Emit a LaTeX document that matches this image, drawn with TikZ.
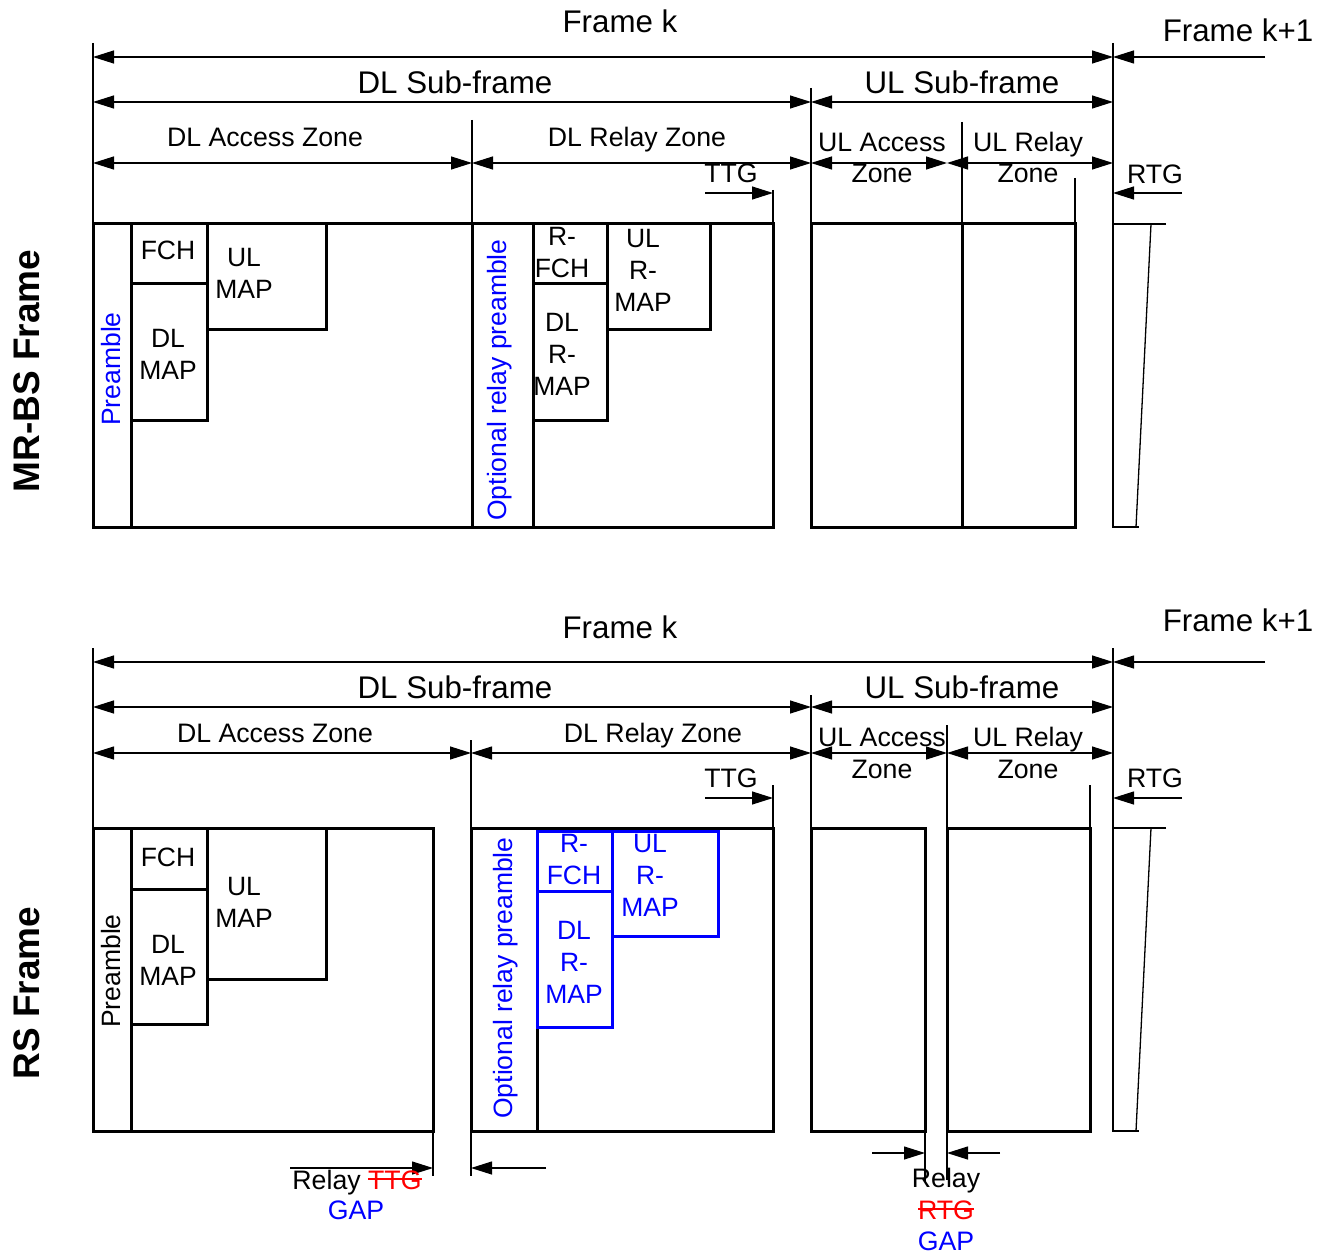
\documentclass[tikz,border=0pt]{standalone}
\usepackage{fontspec}
\setmainfont{Liberation Sans}
\usetikzlibrary{arrows.meta}
\definecolor{myblue}{RGB}{0,0,255}
\definecolor{myred}{RGB}{255,0,0}
\newcommand\mystrike[1]{\leavevmode\setbox0\hbox{#1}\rlap{\rule[0.34em]{\wd0}{1.5pt}}\box0}
\begin{document}
\begin{tikzpicture}[x=1pt,y=-1pt,
  >={Triangle[length=21pt,width=13pt]},
  dimln/.style={line width=1.2pt,<->},
  onearr/.style={line width=1.2pt,->},
  vln/.style={line width=1.3pt},
  bx/.style={draw,line width=3pt},
  bbx/.style={draw=myblue,line width=3pt},
  thinbx/.style={line width=1.3pt},
  lblbig/.style={font=\fontsize{31.3}{36}\selectfont,inner sep=0pt,anchor=base},
  lblsm/.style={font=\fontsize{26.7}{32}\selectfont,inner sep=0pt,anchor=base},
  boxtxt/.style={font=\fontsize{26.5}{32}\selectfont,inner sep=0pt,align=center},
  rottxt/.style={font=\fontsize{26.5}{32}\selectfont,inner sep=0pt,rotate=90},
  sidelbl/.style={font=\fontsize{37}{40}\selectfont\bfseries,inner sep=0pt,rotate=90},
]
\useasboundingbox (0,0) rectangle (1322,1257);

%================ TOP: MR-BS frame =================
\node[sidelbl] (mrbs) at (27,371) {MR-BS Frame};
% vertical guide lines
\draw[vln] (93,43) -- (93,224);
\draw[vln] (1113,43) -- (1113,224);
\draw[vln] (811,88) -- (811,224);
\draw[vln] (472,120) -- (472,224);
\draw[vln] (962,122) -- (962,224);
\draw[vln] (1075,178) -- (1075,224);
\draw[vln] (773,190) -- (773,224);
% dimension arrows
\draw[dimln] (93,57) -- (1113,57);
\draw[onearr] (1265,57) -- (1113,57);
\draw[dimln] (93,102) -- (811,102);
\draw[dimln] (811,102) -- (1113,102);
\draw[dimln] (93,163) -- (472,163);
\draw[dimln] (472,163) -- (811,163);
\draw[dimln] (811,163) -- (947,163);
\draw[dimln] (947,163) -- (1113,163);
\draw[onearr] (705,193) -- (773,193);
\draw[onearr] (1182,193) -- (1113,193);
% labels
\node[lblbig] (tfk) at (620,33) {Frame k};
\node[lblbig] (tfk1) at (1238,42) {Frame k+1};
\node[lblbig] (tdls) at (455,94) {DL Sub-frame};
\node[lblbig] (tuls) at (962,94) {UL Sub-frame};
\node[lblsm] (tdla) at (265,146.5) {DL Access Zone};
\node[lblsm] (tdlr) at (637,146.5) {DL Relay Zone};
\node[lblsm] (tula) at (882,152) {UL Access};
\node[lblsm] (tulaz) at (882,183) {Zone};
\node[lblsm] (tulr) at (1028,152) {UL Relay};
\node[lblsm] (tulrz) at (1028,183) {Zone};
\node[lblsm] (tttg) at (731,183) {TTG};
\node[lblsm] (trtg) at (1155,184) {RTG};
% boxes
\draw[bx] (93,224) rectangle (773,527);
\draw[bx] (93,224) rectangle (131,527);
\draw[bx] (131,224) rectangle (207,284);
\draw[bx] (131,284) rectangle (207,420);
\draw[bx] (207,224) rectangle (326,329);
\draw[bx] (472,224) rectangle (533,527);
\draw[bx] (533,224) rectangle (607,284);
\draw[bx] (533,284) rectangle (607,420);
\draw[bx] (607,224) rectangle (710,329);
\draw[bx] (811,224) rectangle (962,527);
\draw[bx] (962,224) rectangle (1075,527);
\draw[thinbx] (1166,224) -- (1113,224) -- (1113,527) -- (1139,527);
\draw[thinbx] (1151,224) -- (1136,527);
% box texts
\node[rottxt,text=myblue] (tpre) at (111,369) {Preamble};
\node[rottxt,text=myblue] (torp) at (500,380) {Optional relay preamble};
\node[boxtxt] (tfch) at (168,250) {FCH};
\node[boxtxt] (tdlmap) at (168,354) {DL\\MAP};
\node[boxtxt] (tulmap) at (244,273) {UL\\MAP};
\node[boxtxt] (trfch) at (562,253) {R-\\FCH};
\node[boxtxt] (tdlrmap) at (562,354) {DL\\R-\\MAP};
\node[boxtxt] (tulrmap) at (643,270) {UL\\R-\\MAP};

%================ BOTTOM: RS frame =================
\node[sidelbl] (rs) at (27,993) {RS Frame};
\draw[vln] (93,648) -- (93,828);
\draw[vln] (1113,648) -- (1113,828);
\draw[vln] (811,695) -- (811,828);
\draw[vln] (471,740) -- (471,828);
\draw[vln] (947,725) -- (947,1180);
\draw[vln] (1090,785) -- (1090,828);
\draw[vln] (773,785) -- (773,828);
\draw[vln] (433,1131) -- (433,1176);
\draw[vln] (471,1131) -- (471,1176);
\draw[vln] (925,1131) -- (925,1182);
% arrows
\draw[dimln] (93,662) -- (1113,662);
\draw[onearr] (1265,662) -- (1113,662);
\draw[dimln] (93,707) -- (811,707);
\draw[dimln] (811,707) -- (1113,707);
\draw[dimln] (93,753) -- (471,753);
\draw[dimln] (471,753) -- (811,753);
\draw[dimln] (811,753) -- (947,753);
\draw[dimln] (947,753) -- (1113,753);
\draw[onearr] (705,798) -- (773,798);
\draw[onearr] (1182,798) -- (1113,798);
\draw[onearr] (290,1168) -- (433,1168);
\draw[onearr] (546,1168) -- (471,1168);
\draw[onearr] (872,1153) -- (925,1153);
\draw[onearr] (1000,1153) -- (947,1153);
% labels
\node[lblbig] (bfk) at (620,638) {Frame k};
\node[lblbig] (bfk1) at (1238,631) {Frame k+1};
\node[lblbig] (bdls) at (455,698) {DL Sub-frame};
\node[lblbig] (buls) at (962,698) {UL Sub-frame};
\node[lblsm] (bdla) at (275,742) {DL Access Zone};
\node[lblsm] (bdlr) at (653,742) {DL Relay Zone};
\node[lblsm] (bula) at (882,746) {UL Access};
\node[lblsm] (bulaz) at (882,778) {Zone};
\node[lblsm] (bulr) at (1028,746) {UL Relay};
\node[lblsm] (bulrz) at (1028,778) {Zone};
\node[lblsm] (bttg) at (731,787) {TTG};
\node[lblsm] (brtg) at (1155,787) {RTG};
% boxes
\draw[bx] (93,828) rectangle (433,1131);
\draw[bx] (93,828) rectangle (131,1131);
\draw[bx] (131,828) rectangle (207,889);
\draw[bx] (131,889) rectangle (207,1024);
\draw[bx] (207,828) rectangle (326,979);
\draw[bx] (471,828) rectangle (773,1131);
\draw[bx] (471,828) rectangle (537,1131);
\draw[bbx] (537,831) rectangle (612,891);
\draw[bbx] (537,891) rectangle (612,1027);
\draw[bbx] (612,831) rectangle (718,936);
\draw[bx] (811,828) rectangle (925,1131);
\draw[bx] (947,828) rectangle (1090,1131);
\draw[thinbx] (1166,828) -- (1113,828) -- (1113,1131) -- (1139,1131);
\draw[thinbx] (1151,828) -- (1136,1131);
% box texts
\node[rottxt] (bpre) at (111,971) {Preamble};
\node[rottxt,text=myblue] (borp) at (506,978) {Optional relay preamble};
\node[boxtxt] (bfch) at (168,857) {FCH};
\node[boxtxt] (bdlmap) at (168,960) {DL\\MAP};
\node[boxtxt] (bulmap) at (244,902) {UL\\MAP};
\node[boxtxt,text=myblue] (brfch) at (574,860) {R-\\FCH};
\node[boxtxt,text=myblue] (bdlrmap) at (574,962) {DL\\R-\\MAP};
\node[boxtxt,text=myblue] (bulrmap) at (650,875) {UL\\R-\\MAP};
% gap labels
\node[lblsm] (gapl1) at (357,1189) {Relay \textcolor{myred}{\mystrike{TTG}}};
\node[lblsm,text=myblue] (gapl2) at (356,1219) {GAP};
\node[lblsm] (gapr1) at (946,1187) {Relay};
\node[lblsm,text=myred] (gapr2) at (946,1219) {\mystrike{RTG}};
\node[lblsm,text=myblue] (gapr3) at (946,1250) {GAP};
\end{tikzpicture}
\end{document}
